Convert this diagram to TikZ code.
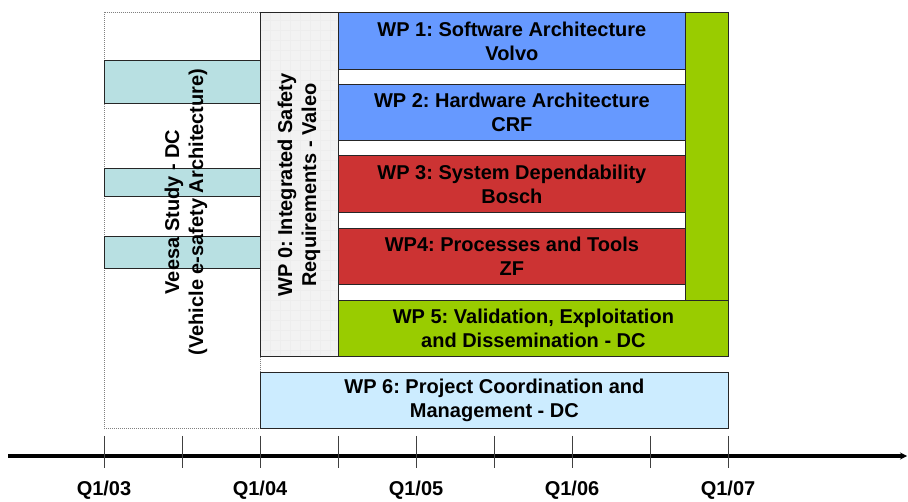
\documentclass[tikz,border=0pt]{standalone}
\usepackage{fontspec}
\setmainfont{Liberation Sans}
\usepackage{tikz}
\usetikzlibrary{positioning, arrows.meta}
\definecolor{wpblue}{RGB}{102,153,255}
\definecolor{wpred}{RGB}{204,51,51}
\definecolor{wpgreen}{RGB}{153,204,0}
\definecolor{wpteal}{RGB}{184,224,226}
\definecolor{wplight}{RGB}{204,236,255}
\definecolor{wpgray}{RGB}{242,242,242}
\frenchspacing

\begin{document}
\begin{tikzpicture}[x=1pt, y=-1pt, >=Stealth, font=\fontsize{20}{24}\selectfont\bfseries]
	\tikzset{
		wpbox/.style={draw=black!85, line width=0.8pt, anchor=north west, inner sep=0pt, align=center},
		tick/.style={draw=black!75, line width=0.8pt},
	}
	\useasboundingbox (0,0) rectangle (908,502);
	
	% Veesa study
	\node[wpbox, draw=black!50, dash pattern=on 1pt off 1pt, minimum width=156pt, minimum height=416pt] (veesa) at (104,12) {};
	\node[wpbox, fill=wpteal, minimum width=156pt, minimum height=43pt] (veesa1) at (104,60) {};
	\node[wpbox, fill=wpteal, minimum width=156pt, minimum height=28pt] (veesa2) at (104,168) {};
	\node[wpbox, fill=wpteal, minimum width=156pt, minimum height=32pt] (veesa3) at (104,236) {};
	\node[rotate=90, align=center] (veesatext) at (186,212) {Veesa Study - DC\\(Vehicle e-safety Architecture)};
	
	% WP 0
	\node[wpbox, fill=wpgray, minimum width=78pt, minimum height=344pt] (wp0) at (260,12) {};
	\draw[black!7, step=10pt] (261,13) grid (337,355);
	\node[rotate=90, align=center] (wp0text) at (299,185) {WP 0: Integrated Safety\\Requirements - Valeo};
	
	% WP 1 - WP 4
	\node[wpbox, fill=wpblue, minimum width=347pt, minimum height=57pt] (wp1) at (338,12) {WP 1: Software Architecture\\Volvo};
	\node[wpbox, fill=wpblue, minimum width=347pt, minimum height=56pt] (wp2) at (338,84) {WP 2: Hardware Architecture\\CRF};
	\node[wpbox, fill=wpred, minimum width=347pt, minimum height=57pt] (wp3) at (338,155) {WP 3: System Dependability\\Bosch};
	\node[wpbox, fill=wpred, minimum width=347pt, minimum height=56pt] (wp4) at (338,228) {WP4: Processes and Tools\\ZF};
	
	% WP 5
	\node[wpbox, fill=wpgreen, minimum width=43pt, minimum height=288pt] (wp5bar) at (685,12) {};
	\node[wpbox, fill=wpgreen, minimum width=390pt, minimum height=56pt] (wp5) at (338,300) {WP 5: Validation, Exploitation\\and Dissemination - DC};
	
	% WP 6
	\node[wpbox, fill=wplight, minimum width=468pt, minimum height=56pt] (wp6) at (260,372) {WP 6: Project Coordination and\\Management - DC};
	
	% Zeitachse
	\coordinate (axisstart) at (8,456);
	\coordinate (axisend) at (907,456);
	\draw[-{Stealth[length=7pt, width=7pt]}, line width=3.5pt] (axisstart) -- (axisend);
	\foreach \tx in {104,182,...,728}
		\draw[tick] (\tx,436) -- (\tx,468);
	\foreach \tx/\ql in {104/03, 260/04, 416/05, 572/06, 728/07}
		\node (q\ql) at (\tx,490) {Q1/\ql};
\end{tikzpicture}
\end{document}
